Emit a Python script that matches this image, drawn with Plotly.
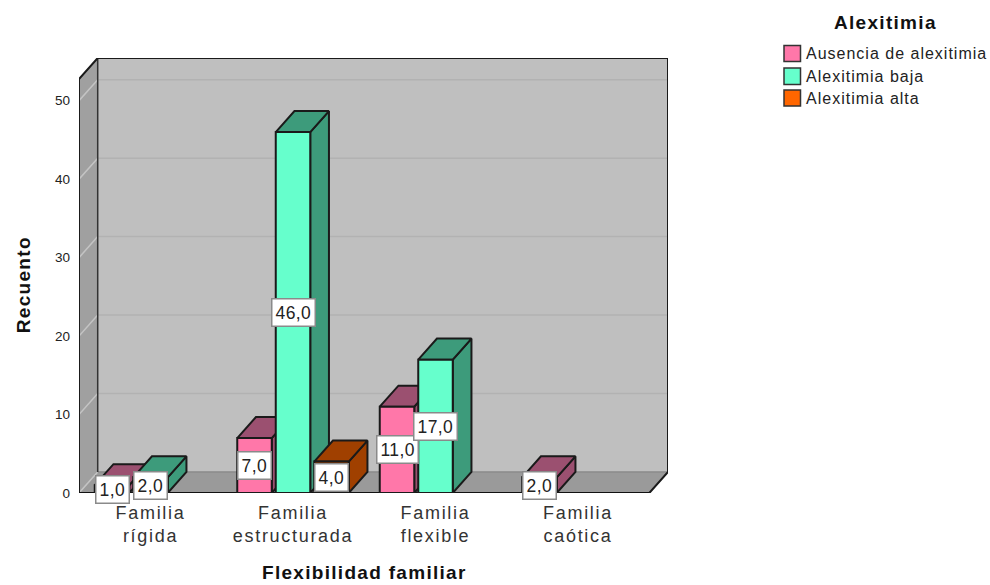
import plotly.graph_objects as go

categories = ["Familia<br>rígida", "Familia<br>estructurada", "Familia<br>flexible", "Familia<br>caótica"]
series_names = ["Ausencia de alexitimia", "Alexitimia baja", "Alexitimia alta"]
ausencia = [1, 7, 11, 2]
baja = [2, 46, 17, None]
alta = [None, 4, None, None]
y_ticks = [0, 10, 20, 30, 40, 50]

legend_colors = ["#FF77A9", "#66FFCC", "#FF6600"]
front_colors = ["#FF77A9", "#66FFCC", "#A04000"]
shade_colors = ["#9B5070", "#3D9B7B", "#A04000"]

WIDTH, HEIGHT = 990, 585
LEFT, RIGHT, TOP, BOTTOM = 79, 668, 58, 492.7
PX_PER_CAT = 142.5
PX_PER_UNIT = 7.84

# 3D look: the depth offset and bar spacing, in axis units
depth_x = 18.7 / PX_PER_CAT
depth_y = 21 / PX_PER_UNIT
bar_width = 34.5 / PX_PER_CAT
bar_step = 38.5 / PX_PER_CAT
x_min = (LEFT - 150.5) / PX_PER_CAT
x_max = (RIGHT - 150.5) / PX_PER_CAT
y_max = (BOTTOM - TOP) / PX_PER_UNIT
x_front = x_max - depth_x
y_front = y_max - depth_y


def spaced(text, spacing):
    return f'<span style="letter-spacing:{spacing}px">{text}</span>'


def paper_x(px):
    return (px - LEFT) / (RIGHT - LEFT)


def paper_y(py):
    return (BOTTOM - py) / (BOTTOM - TOP)


fig = go.Figure()


def add_face(xs, ys, color, line_color="#1a1a1a", line_width=2):
    fig.add_trace(
        go.Scatter(
            x=xs + xs[:1],
            y=ys + ys[:1],
            mode="lines",
            fill="toself",
            fillcolor=color,
            line=dict(color=line_color, width=line_width),
            cliponaxis=False,
            showlegend=False,
            hoverinfo="skip",
        )
    )


def add_line(xs, ys, color, width=1.5):
    fig.add_trace(
        go.Scatter(
            x=xs,
            y=ys,
            mode="lines",
            line=dict(color=color, width=width),
            cliponaxis=False,
            showlegend=False,
            hoverinfo="skip",
        )
    )


# walls and floor
add_face(
    [x_min + depth_x, x_max, x_max, x_min + depth_x],
    [depth_y, depth_y, y_max, y_max],
    "#BFBFBF",
    "#BFBFBF",
    0.5,
)
add_face(
    [x_min, x_min + depth_x, x_min + depth_x, x_min],
    [0, depth_y, y_max, y_front],
    "#A0A0A0",
    "#A0A0A0",
    0.5,
)
add_face(
    [x_min, x_front, x_max, x_min + depth_x],
    [0, 0, depth_y, depth_y],
    "#9A9A9A",
    "#9A9A9A",
    0.5,
)
for tick in y_ticks[1:]:
    add_line([x_min + depth_x, x_max], [tick + depth_y, tick + depth_y], "#B2B2B2")
    add_line([x_min, x_min + depth_x], [tick, tick + depth_y], "#C4C4C4")
add_line([x_min, x_min + depth_x], [0, depth_y], "#C4C4C4")
add_line([x_min + depth_x, x_max], [depth_y, depth_y], "#8C8C8C")

add_line([x_min + depth_x, x_min + depth_x], [depth_y, y_max], "#333333", 1.5)
add_line(
    [x_min, x_min, x_min + depth_x, x_max, x_max, x_front],
    [0, y_front, y_max, y_max, depth_y, 0],
    "#1a1a1a",
    2,
)
add_line([x_min, x_front], [0, 0], "#111111", 2)

# bars, painted left to right so nearer faces cover the shaded sides
all_series = [ausencia, baja, alta]
labels = []
for cat_index in range(len(categories)):
    for series_index, values in enumerate(all_series):
        value = values[cat_index]
        if value is None:
            continue
        center = cat_index + (series_index - 1) * bar_step
        x0 = center - bar_width / 2
        x1 = center + bar_width / 2
        add_face(
            [x1, x1 + depth_x, x1 + depth_x, x1],
            [0, depth_y, value + depth_y, value],
            shade_colors[series_index],
        )
        add_face(
            [x0, x1, x1 + depth_x, x0 + depth_x],
            [value, value, value + depth_y, value + depth_y],
            shade_colors[series_index],
        )
        add_face([x0, x1, x1, x0], [0, 0, value, value], front_colors[series_index])
        labels.append((center, value))

for center, value in labels:
    fig.add_annotation(
        x=center,
        y=value / 2,
        text=spaced(f"{value:.1f}".replace(".", ","), 0.4),
        showarrow=False,
        font=dict(size=17.5, color="#222222"),
        bgcolor="#FFFFFF",
        bordercolor="#8A8A8A",
        borderwidth=1.5,
        borderpad=3,
    )

# legend drawn by hand to keep the square swatches
legend_rows = [(45.5, 61.5), (68, 84.5), (90, 106)]
for name, color, (row_top, row_bottom) in zip(series_names, legend_colors, legend_rows):
    fig.add_shape(
        type="rect",
        xref="paper",
        yref="paper",
        x0=paper_x(784),
        x1=paper_x(800.5),
        y0=paper_y(row_bottom),
        y1=paper_y(row_top),
        fillcolor=color,
        line=dict(color="#333333", width=1.5),
    )
    fig.add_annotation(
        xref="paper",
        yref="paper",
        x=paper_x(803.5),
        y=paper_y((row_top + row_bottom) / 2 + 0.5),
        xanchor="left",
        yanchor="middle",
        text=spaced(name, 1),
        showarrow=False,
        font=dict(size=16, color="#222222"),
    )

titles = [
    (885, 23, spaced("<b>Alexitimia</b>", 1.3), 0),
    (364, 572, spaced("<b>Flexibilidad familiar</b>", 1.3), 0),
    (23, 285, spaced("<b>Recuento</b>", 1.3), -90),
]
for px, py, text, angle in titles:
    fig.add_annotation(
        xref="paper",
        yref="paper",
        x=paper_x(px),
        y=paper_y(py),
        xanchor="center",
        yanchor="middle",
        text=text,
        textangle=angle,
        showarrow=False,
        font=dict(size=19, color="#111111"),
    )

fig.update_layout(
    width=WIDTH,
    height=HEIGHT,
    margin=dict(l=LEFT, r=WIDTH - RIGHT, t=TOP, b=HEIGHT - BOTTOM),
    font=dict(family="Liberation Sans"),
    paper_bgcolor="#FFFFFF",
    plot_bgcolor="#FFFFFF",
    showlegend=False,
    xaxis=dict(
        range=[x_min, x_max],
        tickmode="array",
        tickvals=list(range(len(categories))),
        ticktext=[spaced(c, 1.7) for c in categories],
        tickfont=dict(size=18, color="#333333"),
        showgrid=False,
        zeroline=False,
        showline=False,
        ticks="",
        ticklabelstandoff=7,
        tickangle=0,
    ),
    yaxis=dict(
        range=[0, y_max],
        tickmode="array",
        tickvals=y_ticks,
        tickfont=dict(size=13.5, color="#222222"),
        showgrid=False,
        zeroline=False,
        showline=False,
        ticks="",
        ticklabelstandoff=8,
    ),
)

fig.write_html(
    "out.html",
    config={"displayModeBar": False},
    post_script="document.body.style.margin='0';document.body.style.overflow='hidden';",
)
